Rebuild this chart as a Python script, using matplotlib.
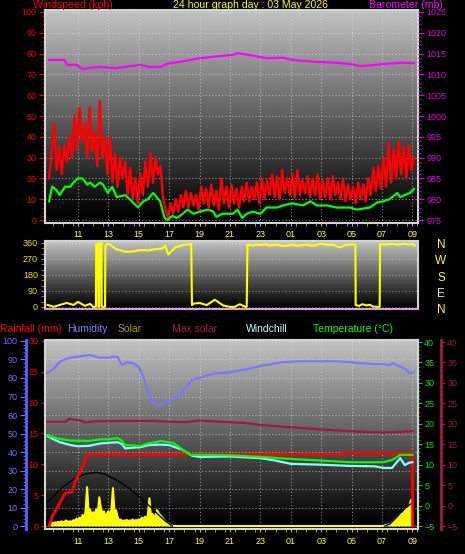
import numpy as np
import matplotlib
matplotlib.use("Agg")
import matplotlib.pyplot as plt
from matplotlib.ticker import MultipleLocator

plt.rcParams['font.family'] = ['Liberation Sans', 'DejaVu Sans']

# time axis: hours since midnight of 02 May (24..33 = next morning)
hour_ticks = list(range(11, 34, 2))
hour_labels = ["%02d" % (h % 24) for h in hour_ticks]

# ---- top panel: wind speed (kph) and barometer (mb)
gust = [20, 33, 46, 24, 35, 22,
        36, 28, 40, 30, 50, 34,
        54, 38, 46, 30, 54, 33,
        42, 26, 57, 30, 40, 22,
        40, 18, 32, 16, 30, 20,
        28, 12, 25, 10, 20, 8,
        22, 12, 28, 16, 32, 18,
        30, 22, 26, 10, 5, 1,
        8, 3, 10, 4, 12, 6,
        14, 6, 13, 7, 12, 5,
        16, 8, 15, 6, 17, 7,
        14, 5, 20, 8, 16, 6,
        17, 8, 15, 6, 16, 9,
        18, 9, 16, 10, 18, 8,
        20, 10, 19, 12, 22, 11,
        21, 10, 24, 13, 20, 12,
        22, 11, 24, 12, 19, 13,
        21, 11, 20, 12, 22, 10,
        19, 11, 20, 10, 21, 12,
        18, 10, 20, 9, 17, 10,
        16, 8, 18, 10, 17, 9,
        20, 12, 25, 14, 26, 15,
        30, 16, 37, 18, 34, 20,
        38, 22, 35, 20, 36, 24,
        30]
gust_t = 9.1 + np.arange(len(gust)) / 6.0

wind_t = [9.1, 9.3, 9.5, 9.8, 10.15, 10.5, 10.7, 11.0, 11.3, 11.6, 11.8,
          12.1, 12.45, 12.65, 12.97, 13.25, 13.55, 14.1, 14.55, 14.95, 15.3,
          15.6, 15.95, 16.4, 16.7, 16.9, 17.2, 17.5, 17.9, 18.2, 18.6, 19.0,
          19.55, 19.9, 20.1, 20.5, 21.2, 21.5, 21.8, 22.1, 22.5, 23.0, 23.4,
          24.1, 24.5, 25.1, 25.8, 26.3, 26.7, 27.4, 28.0, 28.9, 29.35, 30.2,
          30.7, 31.1, 31.5, 32.0, 32.2, 32.5, 32.85, 33.1]
wind_avg = [9, 16, 15, 12, 16, 16, 18, 20, 20, 17, 18,
            16, 18, 17, 13, 16, 11, 12, 9, 6, 9,
            10, 13, 9, 1, 0, 2, 1, 3, 5, 3, 4,
            5, 4, 1.5, 3, 3, 5, 1, 3, 4, 3, 6,
            6, 7, 8, 7, 9, 7, 7, 6, 6, 5, 6,
            8.5, 9, 10, 13, 11, 12, 13, 15]

baro_t = [9.1, 10.1, 10.3, 10.9, 11.3, 11.8, 12.45, 13.0, 13.55, 14.2, 15.1,
          15.7, 16.4, 16.9, 18.0, 19.0, 20.0, 21.2, 21.5, 22.5, 23.4, 24.5,
          25.1, 26.7, 28.0, 28.9, 29.55, 30.3, 31.1, 31.5, 32.3, 33.1]
baro = [1013.5, 1013.5, 1012.3, 1012.3, 1011.3, 1011.6, 1011.8, 1011.6,
        1011.5, 1011.9, 1012.3, 1011.8, 1011.8, 1012.6, 1013.2, 1013.9,
        1014.3, 1014.7, 1015.1, 1014.5, 1013.9, 1014.0, 1013.5, 1013.0,
        1012.8, 1012.5, 1012.0, 1012.2, 1012.5, 1012.6, 1012.8, 1012.7]

# ---- middle panel: wind direction (deg)
dir_t = [9.0, 9.4, 9.8, 10.26, 10.7, 11.0, 11.46, 11.8, 12.0, 12.18, 12.2,
         12.32, 12.34, 12.4, 12.42, 12.54, 12.56, 12.78, 12.8, 12.9, 13.1,
         13.5, 14.1, 14.6, 15.1, 15.6, 16.2, 16.6, 16.75, 16.94, 17.4, 17.93,
         18.45, 18.5, 18.6, 19.0, 19.47, 20.0, 20.55, 21.0, 21.3, 21.65, 22.0,
         22.1, 22.15, 22.5, 22.8, 23.0, 23.3, 23.6, 24.0, 24.5, 25.0, 25.5,
         26.0, 26.4, 26.7, 27.0, 27.5, 27.8, 28.2, 28.6, 29.0, 29.25, 29.27,
         29.5, 29.7, 30.0, 30.2, 30.4, 30.67, 30.85, 30.87, 31.2, 31.6, 32.0,
         32.4, 32.8, 33.0, 33.15]
dir_deg = [11, 0, 11, 22, 11, 28, 6, 17, 0, 0, 350,
           358, 0, 0, 355, 360, 0, 0, 340, 355, 352,
           325, 310, 312, 320, 318, 326, 330, 345, 295, 335, 348,
           355, 10, 18, 22, 10, 40, 8, 0, 0, 15, 0,
           0, 350, 345, 352, 348, 353, 345, 350, 343, 348, 345,
           350, 344, 348, 356, 348, 350, 335, 348, 352, 348, 10,
           5, 15, 8, 12, 2, 0, 0, 355, 350, 356, 350,
           355, 352, 356, 345]

# ---- bottom panel
hum_t = [9.0, 9.4, 9.8, 10.1, 10.5, 11.0, 11.7, 12.0, 12.4, 13.0, 13.4, 13.6,
         13.9, 14.2, 14.6, 15.0, 15.3, 15.6, 15.9, 16.1, 16.4, 16.8, 17.2,
         17.6, 18.0, 18.5, 19.0, 19.5, 20.0, 21.0, 21.5, 22.0, 23.0, 23.7,
         24.5, 25.5, 26.7, 28.0, 29.0, 29.5, 30.5, 31.0, 31.5, 31.7, 32.0,
         32.5, 32.8, 33.0]
hum = [82.7, 85, 88.6, 90, 91, 91.5, 92.4, 92, 91, 91, 91.5, 91.4,
       87, 88.5, 88, 86, 80.5, 73, 67, 66, 65.4, 67, 68.5,
       70, 74, 79, 80, 81.5, 82.5, 83, 84, 84.5, 86.5, 87.5,
       88.6, 89, 89, 89, 88.5, 88, 87.5, 87.5, 87, 88, 87,
       85, 82.7, 83]

rain_t = [9.1, 9.3, 9.8, 10.15, 10.6, 10.8, 11.1, 11.33, 11.6, 28.4, 28.45,
          33.0, 33.02, 33.1]
rain = [0, 1.5, 3.7, 5.3, 5.5, 7.1, 8.6, 9.7, 11.6, 11.6, 11.8,
        11.8, 0, 0]

temp_t = [9.0, 9.3, 9.8, 10.5, 11.7, 12.5, 13.0, 13.6, 13.9, 14.1, 15.1, 15.6,
          16.1, 16.4, 17.25, 17.6, 17.9, 18.4, 19.0, 21.0, 23.0, 25.0, 27.0,
          28.9, 31.1, 31.7, 32.2, 33.0]
temp = [17.2, 16.8, 16.3, 15.9, 15.8, 16.2, 16.2, 16.5, 15.8, 14.8, 14.6, 15.2,
        15.5, 15.8, 15.3, 14.5, 13.6, 12.4, 12.4, 12.3, 11.9, 11.4, 11.0,
        10.6, 10.6, 11.2, 12.4, 12.4]

chill_t = [9.0, 9.3, 9.8, 10.5, 11.0, 11.7, 12.5, 13.6, 13.9, 14.1, 15.1, 15.7,
           16.4, 17.0, 17.9, 18.5, 19.0, 21.0, 23.0, 24.0, 25.0, 27.0, 28.9,
           30.5, 31.1, 31.66, 32.2, 32.5, 32.8, 33.0]
chill = [17.0, 16.4, 15.5, 14.8, 14.5, 14.6, 15.2, 15.5, 15.0, 14.0, 14.3, 14.8,
         14.9, 14.8, 13.6, 12.2, 11.9, 12.0, 11.6, 11.0, 10.2, 10.0, 9.7,
         9.6, 9.2, 9.2, 11.6, 9.9, 10.5, 10.6]

maxsol_t = [9.0, 10.2, 10.4, 11.2, 11.5, 12.0, 14.0, 16.0, 17.0, 18.0, 19.0,
            20.5, 22.0, 23.0, 24.5, 25.6, 27.0, 28.9, 30.0, 31.07, 32.0, 33.0]
maxsol = [20.5, 20.5, 21.2, 20.8, 20.3, 20.6, 20.7, 20.7, 20.5, 20.4, 20.8,
          20.5, 20.2, 19.7, 19.3, 19.0, 18.6, 18.2, 18.0, 17.9, 18.0, 18.2]

sun_t = [9.0, 9.5, 10.0, 10.5, 11.0, 11.5, 12.2, 12.8, 13.5, 14.0, 14.5, 15.0,
         15.5, 16.0, 16.3, 16.7, 17.2, 17.3, 31.2, 31.5, 32.0, 32.2, 32.5,
         32.8, 33.0]
sun_curve = [13, 17, 21, 24, 26.5, 28.2, 29, 28, 25, 22.5, 19.5, 16,
             12.4, 8.5, 6, 3, 0, np.nan, 0, 1, 5, 7, 9.5,
             11.4, 12.4]

solar_day = [0.5, 1.5, 1.8, 1.5, 2.0, 1.8, 2.2, 2.0, 2.5, 2.3,
             2.0, 3.0, 2.5, 2.2, 2.6, 2.0, 3.2, 2.5, 4.0, 3.0,
             4.5, 3.5, 6.0, 4.0, 8.0, 21.0, 6.0, 9.0, 5.0, 7.5,
             6.0, 9.0, 7.0, 15.5, 10.0, 6.0, 8.0, 5.0, 6.5, 8.0,
             5.5, 9.0, 20.5, 7.0, 8.5, 5.0, 3.0, 3.5, 2.5, 3.0,
             2.8, 3.3, 2.6, 3.0, 2.8, 3.5, 2.5, 3.2, 3.0, 3.5,
             3.0, 4.5, 3.5, 5.0, 4.0, 6.0, 15.0, 5.0, 6.5, 4.5,
             6.0, 8.6, 7.0, 6.0, 5.0, 4.0, 3.0, 2.2, 1.5, 1.0,
             0.5, 0.2, 0.0]
solar_day_t = np.round(9.1 + np.arange(len(solar_day)) * 0.1, 2)
solar_morn_t = [31.0, 31.5, 31.8, 32.0, 32.2, 32.4, 32.6, 32.8, 32.9, 33.0]
solar_morn = [0, 1, 3, 4.5, 6, 7, 9, 10, 14, 12.4]
solar_t = np.concatenate([solar_day_t, solar_morn_t])
solar = np.concatenate([solar_day, solar_morn])

# ---- figure
W, H = 465, 554
PT = 0.72  # points per pixel at 100 dpi
fig = plt.figure(figsize=(W / 100, H / 100), dpi=100, facecolor='black')


def rect(x0, y0, x1, y1):
    return [x0 / W, 1 - y1 / H, (x1 - x0) / W, (y1 - y0) / H]


def fx(x):
    return x / W


def fy(y):
    return 1 - y / H


grad = np.linspace(0, 1, 256).reshape(-1, 1)
frame = '#d4d4d4'
yellow = '#ffff30'


def backdrop(ax):
    ax.set_facecolor('black')
    ax.imshow(grad, extent=[0, 1, 0, 1], transform=ax.transAxes, aspect='auto',
              cmap='gray', vmin=0.03, vmax=1.3, origin='lower', zorder=0)
    for s in ax.spines.values():
        s.set_color(frame)
        s.set_linewidth(1.5)


def hour_axis(ax):
    ax.set_xlim(8.83, 33.37)
    ax.set_xticks(hour_ticks)
    ax.set_xticklabels(hour_labels)
    ax.xaxis.set_minor_locator(MultipleLocator(2 / 3))
    ax.tick_params(axis='x', which='both', color='#b0b0b0', labelcolor=yellow,
                   labelsize=6.5, length=2, pad=3)
    ax.grid(axis='x', color='#e0e0e0', linestyle=(0, (1, 2)), linewidth=0.8, alpha=0.6)


# top panel
ax1 = fig.add_axes(rect(45, 10, 418, 223))
backdrop(ax1)
ax1.plot(gust_t, gust, color='#ff0000', lw=1.7, zorder=3)
ax1.plot(wind_t, wind_avg, color='#00ff00', lw=1.6, zorder=4)
hour_axis(ax1)
ax1.set_ylim(-1.44, 100.96)
ax1.set_yticks(range(0, 101, 10))
ax1.yaxis.set_minor_locator(MultipleLocator(2))
ax1.tick_params(axis='y', which='major', colors='#ee0000', labelsize=6.5, length=4, pad=2)
ax1.tick_params(axis='y', which='minor', colors='#cc0000', length=2)
ax1.grid(axis='y', color='#e0e0e0', linestyle=(0, (1, 2)), linewidth=0.8, alpha=0.6)

ax1b = ax1.twinx()
ax1b.plot(baro_t, baro, color='#ff00ff', lw=1.6)
ax1b.set_ylim(974.28, 1025.48)
ax1b.set_yticks(range(975, 1026, 5))
ax1b.yaxis.set_minor_locator(MultipleLocator(1))
ax1b.tick_params(axis='y', which='major', colors='#e000e0', labelsize=6.5, length=4, pad=2)
ax1b.tick_params(axis='y', which='minor', colors='#c000c0', length=2)
for s in ax1b.spines.values():
    s.set_visible(False)

fig.text(fx(33), fy(5), 'Windspeed (kph)', color='#ff0000', fontsize=7.6, va='center')
fig.text(fx(250), fy(5), '24 hour graph day : 03 May 2026', color='#ffff00',
         fontsize=7.6, va='center', ha='center')
fig.text(fx(443), fy(5), 'Barometer (mb)', color='#ff00ff', fontsize=7.6, va='center', ha='right')

# middle panel
ax2 = fig.add_axes(rect(45, 241, 418, 309))
backdrop(ax2)
ax2.spines['bottom'].set_color('#d8a0d8')
ax2.plot(dir_t, dir_deg, color='#ffff00', lw=1.5, zorder=3)
ax2.set_xlim(8.83, 33.37)
ax2.set_xticks([])
ax2.set_ylim(-12, 371)
ax2.set_yticks([0, 90, 180, 270, 360])
ax2.yaxis.set_minor_locator(MultipleLocator(30))
ax2.tick_params(axis='y', which='both', color='#a0a000', labelcolor='#e8e800',
                labelsize=6.5, length=3, pad=2)
ax2.grid(axis='y', color='#e0e0e0', linestyle=(0, (1, 2)), linewidth=0.8, alpha=0.5)
for lab, yy in zip(['N', 'W', 'S', 'E', 'N'], [245, 261, 278, 294, 310]):
    fig.text(fx(441), fy(yy), lab, color='#ffff00', fontsize=8.5, ha='center', va='center')

# legend row
for lab, col, xx in [('Rainfall (mm)', '#ff0000', 0), ('Humidity', '#8080ff', 67),
                     ('Solar', '#a0a000', 118), ('Max solar', '#a0204a', 172),
                     ('Windchill', '#c8ffff', 246), ('Temperature (\u00b0C)', '#00ff00', 313)]:
    fig.text(fx(xx), fy(329), lab, color=col, fontsize=7.5, va='center')

# bottom panel
ax3 = fig.add_axes(rect(45, 340, 418, 529))
backdrop(ax3)
ax3.fill_between(solar_t, 0, solar, color='#ffff00', lw=0, zorder=2)
ax3.plot(solar_t, solar, color='#ffff00', lw=1.5, zorder=2)
ax3.plot(sun_t, sun_curve, color='black', lw=1.0, zorder=3)
ax3.plot(hum_t, hum, color='#7878ff', lw=1.6, zorder=4)
hour_axis(ax3)
ax3.tick_params(axis='x', pad=4)
ax3.set_ylim(-1.62, 100.54)
ax3.set_yticks(range(0, 101, 10))
ax3.yaxis.set_minor_locator(MultipleLocator(2))
ax3.spines['left'].set_position(('outward', 19 * PT))
ax3.spines['left'].set_color('#6060ff')
ax3.spines['left'].set_linewidth(2)
ax3.tick_params(axis='y', which='major', colors='#7070ff', labelsize=6.5, length=4, pad=2)
ax3.tick_params(axis='y', which='minor', colors='#6060ff', length=2)
ax3.grid(axis='y', color='#e0e0e0', linestyle=(0, (1, 2)), linewidth=0.8, alpha=0.6)

ax3r = ax3.twinx()
ax3r.yaxis.set_ticks_position('left')
for name, s in ax3r.spines.items():
    s.set_visible(name == 'left')
ax3r.spines['left'].set_color(frame)
ax3r.spines['left'].set_linewidth(1.5)
ax3r.set_ylim(-0.486, 30.16)
ax3r.set_yticks(range(0, 31, 5))
ax3r.yaxis.set_minor_locator(MultipleLocator(1))
ax3r.tick_params(axis='y', which='major', colors='#ee0000', labelsize=6.5, length=3, pad=1.5)
ax3r.tick_params(axis='y', which='minor', colors='#cc0000', length=1.5)

ax3m = ax3.twinx()
for name, s in ax3m.spines.items():
    s.set_visible(name == 'right')
ax3m.spines['right'].set_position(('outward', 23 * PT))
ax3m.spines['right'].set_color('#a01848')
ax3m.spines['right'].set_linewidth(2)
ax3m.plot(maxsol_t, maxsol, color='#a01848', lw=1.6)
ax3m.set_ylim(-5.73, 40.49)
ax3m.set_yticks(range(-5, 41, 5))
ax3m.yaxis.set_minor_locator(MultipleLocator(1))
ax3m.tick_params(axis='y', which='major', colors='#a01848', labelsize=6.5, length=3, pad=1.5)
ax3m.tick_params(axis='y', which='minor', colors='#a01848', length=1.5)

ax3t = ax3.twinx()
for name, s in ax3t.spines.items():
    s.set_visible(name == 'right')
ax3t.spines['right'].set_color(frame)
ax3t.spines['right'].set_linewidth(1.5)
ax3t.plot(chill_t, chill, color='#80ffff', lw=1.6)
ax3t.plot(temp_t, temp, color='#00ff00', lw=1.6)
ax3t.set_ylim(-5.73, 40.49)
ax3t.set_yticks(range(-5, 41, 5))
ax3t.yaxis.set_minor_locator(MultipleLocator(1))
ax3t.tick_params(axis='y', which='major', colors='#00e000', labelsize=6.5, length=3, pad=1.5)
ax3t.tick_params(axis='y', which='minor', colors='#00c000', length=1.5)

ax3r.plot(rain_t, rain, color='#ff0000', lw=2, zorder=5)

fig.savefig('out.png', dpi=100, facecolor='black')
